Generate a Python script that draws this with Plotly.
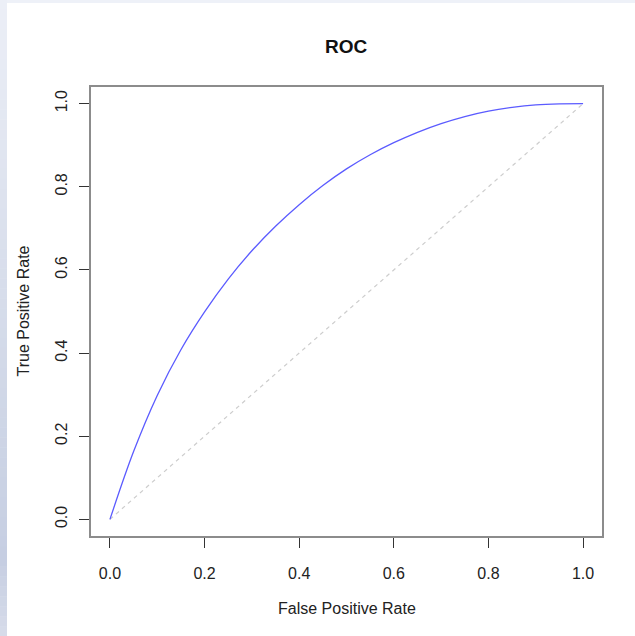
import plotly.graph_objects as go

# ROC curve: false positive rate vs true positive rate
fpr = [0.0, 0.05, 0.10, 0.15, 0.20, 0.25, 0.30, 0.35, 0.40, 0.45, 0.50,
       0.55, 0.60, 0.65, 0.70, 0.75, 0.80, 0.85, 0.90, 0.95, 1.0]
tpr = [0.0, 0.163, 0.298, 0.408, 0.499, 0.578, 0.646, 0.705, 0.757, 0.803, 0.843,
       0.877, 0.906, 0.931, 0.952, 0.969, 0.982, 0.991, 0.997, 0.9995, 1.0]

# chance diagonal
chance_x = [0.0, 1.0]
chance_y = [0.0, 1.0]

tick_vals = [0.0, 0.2, 0.4, 0.6, 0.8, 1.0]
tick_text = ["0.0", "0.2", "0.4", "0.6", "0.8", "1.0"]

W, H = 635, 636
L, R, T, B = 91, 33, 87, 100
pw, ph = W - L - R, H - T - B

FONT = "Liberation Sans, Arial, Helvetica, sans-serif"

fig = go.Figure()
fig.add_trace(go.Scatter(x=chance_x, y=chance_y, mode="lines",
                         line=dict(color="#cdcdcd", width=1.2, dash="4px,4px"),
                         hoverinfo="skip", showlegend=False))
fig.add_trace(go.Scatter(x=fpr, y=tpr, mode="lines",
                         line=dict(color="#5b5bff", width=1.3, shape="spline", smoothing=1.0),
                         showlegend=False))


def px_x(p):
    return (p - L) / pw


def px_y(p):
    return (H - B - p) / ph


def hex_to_rgb(h):
    h = h.lstrip("#")
    return tuple(int(h[i:i + 2], 16) for i in (0, 2, 4))


# soft gradient strip along the left edge, plus a thin band along the top
stops = [(0, "#eceff7"), (200, "#dde2ee"), (450, "#ccd4e5"), (560, "#c6cee2"), (636, "#d7dce9")]
shapes = []
steps = 64
for i in range(steps):
    y0 = i * H / steps
    y1 = (i + 1) * H / steps
    ym = (y0 + y1) / 2
    for (a, ca), (b, cb) in zip(stops[:-1], stops[1:]):
        if a <= ym <= b:
            t = (ym - a) / (b - a)
            ra, rb = hex_to_rgb(ca), hex_to_rgb(cb)
            rgb = tuple(round(ra[k] + (rb[k] - ra[k]) * t) for k in range(3))
            break
    shapes.append(dict(type="rect", xref="paper", yref="paper",
                       x0=px_x(0), x1=px_x(7), y0=px_y(y1 + 0.5), y1=px_y(y0),
                       fillcolor="rgb(%d,%d,%d)" % rgb, line=dict(width=0), layer="below"))
shapes.append(dict(type="rect", xref="paper", yref="paper",
                   x0=px_x(7), x1=px_x(W), y0=px_y(3), y1=px_y(0),
                   fillcolor="#eef1f8", line=dict(width=0), layer="below"))

annotations = [
    dict(text="<b>ROC</b>", xref="paper", yref="paper", x=0.5, y=px_y(46),
         xanchor="center", yanchor="middle", showarrow=False,
         font=dict(family=FONT, size=19, color="#111111")),
    dict(text="False Positive Rate", xref="paper", yref="paper", x=0.5, y=px_y(608),
         xanchor="center", yanchor="middle", showarrow=False,
         font=dict(family=FONT, size=16, color="#222222")),
    dict(text="True Positive Rate", xref="paper", yref="paper", x=px_x(23), y=0.5,
         xanchor="center", yanchor="middle", showarrow=False, textangle=-90,
         font=dict(family=FONT, size=16, color="#222222")),
]

axis_common = dict(
    range=[-0.04, 1.04], showgrid=False, zeroline=False,
    showline=True, linecolor="#8c8c8c", linewidth=1.5, mirror=True,
    ticks="outside", ticklen=10, tickwidth=1.2, tickcolor="#333333",
    tickvals=tick_vals, ticktext=tick_text,
    tickfont=dict(family=FONT, size=16, color="#222222"),
    fixedrange=True,
)

fig.update_layout(
    width=W, height=H,
    margin=dict(l=L, r=R, t=T, b=B),
    paper_bgcolor="white", plot_bgcolor="white",
    xaxis=dict(**axis_common, ticklabelstandoff=12),
    yaxis=dict(**axis_common, tickangle=-90, ticklabelstandoff=6),
    shapes=shapes, annotations=annotations,
)

fig.write_html("out.html")
